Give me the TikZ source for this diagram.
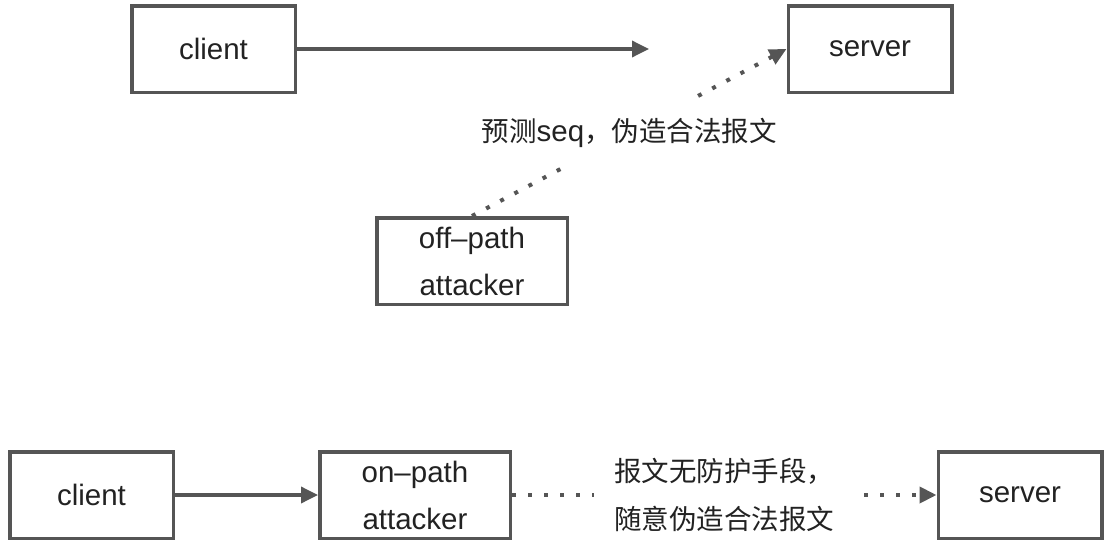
\documentclass[tikz,border=0pt]{standalone}
\usepackage{fontspec}
\setmainfont{Liberation Sans}
\newfontfamily\cjk{Noto Sans CJK SC}
\usetikzlibrary{arrows.meta}
\definecolor{ln}{HTML}{555555}
\definecolor{tx}{HTML}{222222}
\begin{document}
\begin{tikzpicture}[x=1pt,y=-1pt,
 box/.style={draw=ln,line width=3.5pt,minimum width=163.5pt,minimum height=86.5pt,text=tx,font=\fontsize{29.5}{47}\selectfont,align=center,inner sep=0pt},
 wide/.style={box,minimum width=190.5pt},
 arr/.style={draw=ln,line width=3.5pt,-{Triangle[length=17pt,width=16pt]}},
 dots/.style={arr,line width=4pt,dash pattern=on 4pt off 12pt},
 lab/.style={fill=white,text=tx,font=\cjk\fontsize{27.5}{48}\selectfont,inner xsep=20pt,inner ysep=19pt}]
\useasboundingbox (0,0) rectangle (1112,554);
\node[box] (c1) at (213.5,49) {client};
\node[box] (s1) at (870,49) {server};
\node[wide] (a1) at (472,261) {off–path\\attacker};
\coordinate (e1) at (649,49);
\draw[arr] (c1) -- (e1);
\draw[dots] (a1.north) -- node[lab]{预测{\fontspec{Liberation Sans}\fontsize{29.5}{48}\selectfont seq}，伪造合法报文} (s1.west);
\node[box] (c2) at (91.5,495) {client};
\node[wide] (a2) at (415,495) {on–path\\attacker};
\node[box] (s2) at (1020,495) {server};
\draw[arr] (c2) -- (a2);
\draw[dots] (a2) -- node[lab,align=left]{报文无防护手段，\\随意伪造合法报文} (s2);
\end{tikzpicture}
\end{document}
